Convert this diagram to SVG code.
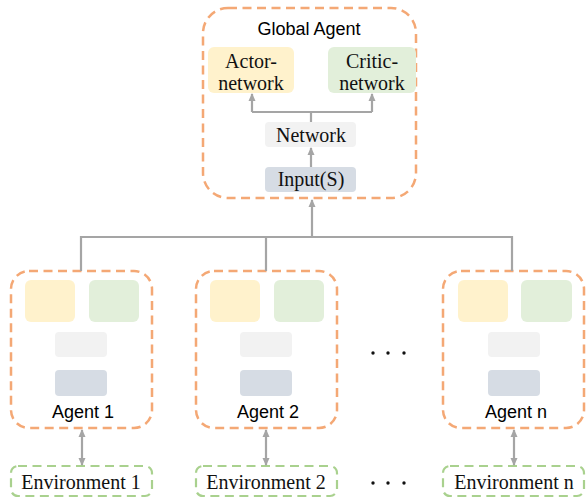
<svg xmlns="http://www.w3.org/2000/svg" width="586" height="500" viewBox="0 0 586 500">
<defs>
<marker id="ah" markerUnits="userSpaceOnUse" markerWidth="8" markerHeight="8" refX="7" refY="4" orient="auto-start-reverse">
<path d="M0,0.5 L8,4 L0,7.5 z" fill="#A5A5A5"/>
</marker>
<style>
.agent{fill:none;stroke:#F4A875;stroke-width:2.5;stroke-dasharray:9 5.5}
.env{fill:none;stroke:#A9D18E;stroke-width:2.2;stroke-dasharray:9 5.5}
.conn{fill:none;stroke:#A5A5A5;stroke-width:2.2}
.actor{fill:#FFF2CC}
.critic{fill:#E2EFDA}
.net{fill:#F2F2F2}
.inp{fill:#D6DCE4}
.sans{font-family:"Liberation Sans",Arial,sans-serif;font-size:18px;fill:#000;text-anchor:middle}
.serif{font-family:"Liberation Serif","Times New Roman",serif;font-size:20px;fill:#111;text-anchor:middle}
</style>
</defs>
<rect width="586" height="500" fill="#fff"/>

<g id="global-agent">
<rect class="agent" x="203" y="8" width="213" height="190" rx="25"/>
<text class="sans" x="309" y="35">Global Agent</text>
<rect class="actor" x="208" y="47" width="86" height="46" rx="6"/>
<text class="serif" x="251" y="68">Actor-</text>
<text class="serif" x="251" y="90">network</text>
<rect class="critic" x="328" y="47" width="88" height="46" rx="6"/>
<text class="serif" x="372" y="68">Critic-</text>
<text class="serif" x="372" y="90">network</text>
<rect class="net" x="265" y="122" width="91" height="25" rx="4"/>
<text class="serif" x="311" y="142">Network</text>
<rect class="inp" x="265" y="167" width="91" height="25" rx="4"/>
<text class="serif" x="311" y="186">Input(S)</text>
</g>

<g id="agent-1">
<rect class="agent" x="11" y="271" width="141" height="157" rx="18"/>
<rect class="actor" x="25" y="280" width="50" height="42" rx="6"/>
<rect class="critic" x="89" y="280" width="50" height="42" rx="6"/>
<rect class="net" x="55" y="332" width="52" height="25" rx="4"/>
<rect class="inp" x="55" y="370" width="52" height="26" rx="4"/>
<text class="sans" x="83" y="418">Agent 1</text>
</g>

<g id="agent-2">
<rect class="agent" x="196" y="271" width="141" height="157" rx="18"/>
<rect class="actor" x="210" y="280" width="50" height="42" rx="6"/>
<rect class="critic" x="274" y="280" width="50" height="42" rx="6"/>
<rect class="net" x="240" y="332" width="52" height="25" rx="4"/>
<rect class="inp" x="240" y="370" width="52" height="26" rx="4"/>
<text class="sans" x="268" y="418">Agent 2</text>
</g>

<g id="agent-n">
<rect class="agent" x="443" y="271" width="141" height="157" rx="18"/>
<rect class="actor" x="458" y="280" width="50" height="42" rx="6"/>
<rect class="critic" x="521" y="280" width="51" height="42" rx="6"/>
<rect class="net" x="488" y="332" width="52" height="25" rx="4"/>
<rect class="inp" x="488" y="370" width="52" height="26" rx="4"/>
<text class="sans" x="516" y="418">Agent n</text>
</g>

<g id="env-1">
<rect class="env" x="11" y="466" width="141" height="30" rx="7"/>
<text class="serif" x="81" y="489">Environment 1</text>
</g>
<g id="env-2">
<rect class="env" x="196" y="466" width="141" height="30" rx="7"/>
<text class="serif" x="266" y="489">Environment 2</text>
</g>
<g id="env-n">
<rect class="env" x="443" y="466" width="141" height="30" rx="7"/>
<text class="serif" x="514" y="489">Environment n</text>
</g>

<g id="ellipsis">
<circle cx="373" cy="353" r="1.7" fill="#111"/>
<circle cx="388" cy="353" r="1.7" fill="#111"/>
<circle cx="404" cy="353" r="1.7" fill="#111"/>
<circle cx="373" cy="483" r="1.7" fill="#111"/>
<circle cx="388" cy="483" r="1.7" fill="#111"/>
<circle cx="404" cy="483" r="1.7" fill="#111"/>
</g>

<g id="connectors">
<path class="conn" d="M311,167 V148" marker-end="url(#ah)"/>
<path class="conn" d="M311,122 V112 M252,112 H372"/>
<path class="conn" d="M252,112 V94" marker-end="url(#ah)"/>
<path class="conn" d="M372,112 V94" marker-end="url(#ah)"/>
<path class="conn" d="M81,271 V237 H512 V271 M266,237 V271"/>
<path class="conn" d="M312,237 V200" marker-end="url(#ah)"/>
<path class="conn" d="M82,430 V465" marker-start="url(#ah)" marker-end="url(#ah)"/>
<path class="conn" d="M266,430 V465" marker-start="url(#ah)" marker-end="url(#ah)"/>
<path class="conn" d="M514,430 V465" marker-start="url(#ah)" marker-end="url(#ah)"/>
</g>
</svg>
